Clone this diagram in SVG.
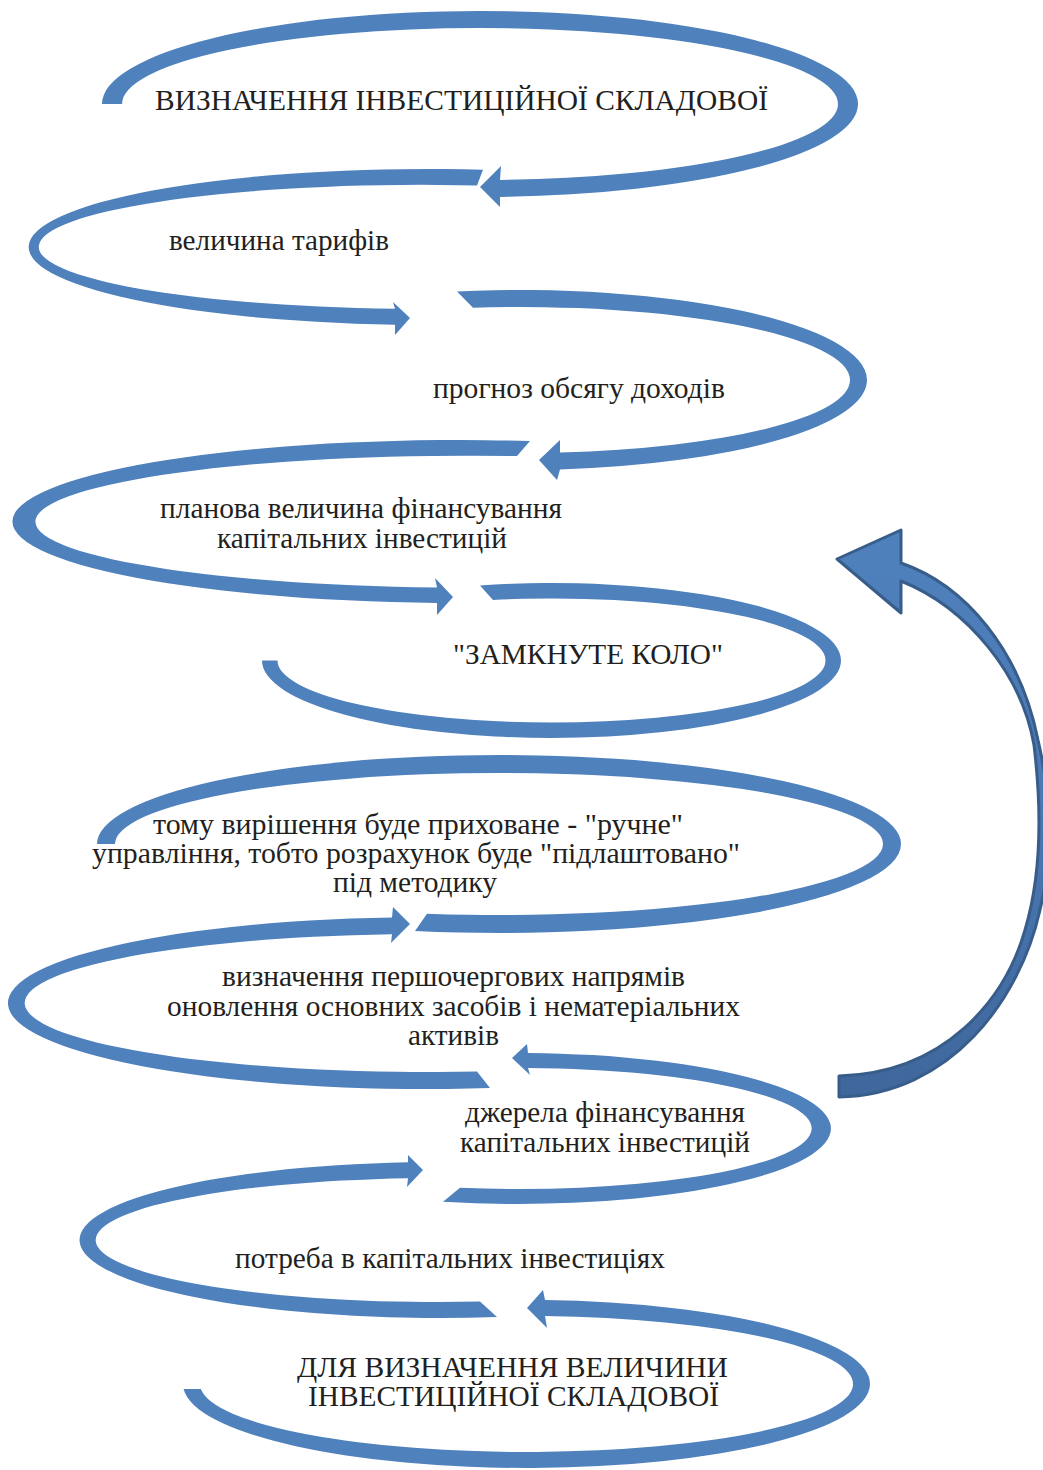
<svg xmlns="http://www.w3.org/2000/svg" width="1043" height="1470" viewBox="0 0 1043 1470">
<style>
.band{fill:#4f81bd}
.lbl{font-family:"Liberation Serif","Times New Roman",serif;font-size:29px;fill:#231f20}
.ret{stroke:#385d8a;stroke-width:3;stroke-linejoin:round}
</style>
<defs>
<linearGradient id="retg" x1="0" y1="0" x2="0" y2="1">
<stop offset="0" stop-color="#4f81bd"/>
<stop offset="0.5" stop-color="#4a78b2"/>
<stop offset="1" stop-color="#3f679c"/>
</linearGradient>
</defs>
<rect width="1043" height="1470" fill="#ffffff"/>
<g id="connectors">
<path class="band" d="M 102,104 A 378 93 0 0 1 858,104 A 378 93 0 0 1 500,196.9 L 500,207 L 480,187 L 501,166 L 500,179.9 A 358 76 0 0 0 838,104 A 358 76 0 0 0 122,104 Z"/>
<path class="band" d="M 483,169.7 A 400 78 0 1 0 395,324.7 L 395,335 L 410,318 L 393,302 L 395,308.7 A 383 62 0 1 1 477,185.5 Z"/>
<path class="band" d="M 457,291.5 A 347 90 0 0 1 867,380 A 347 90 0 0 1 560,469.4 L 557,480 L 539,460 L 560,440 L 560,452.5 A 330 73 0 0 0 850,380 A 330 73 0 0 0 473,307.7 Z"/>
<path class="band" d="M 530,441 A 448 81.5 0 1 0 437,602.9 L 437,615 L 453,597 L 435,578 L 437,587.5 A 432 66 0 1 1 517,456.1 Z"/>
<path class="band" d="M 480,585.4 A 289.5 77.5 0 0 1 841,660.5 A 289.5 77.5 0 0 1 262,660.5 L 277.5,660.5 A 274 62 0 0 0 825.5,660.5 A 274 62 0 0 0 493,599.9 Z"/>
<path class="band" d="M 97,844 A 402 89 0 0 1 901,844 A 402 89 0 0 1 415,931 L 427,913.7 A 384 71 0 0 0 883,844 A 384 71 0 0 0 115,844 Z"/>
<path class="band" d="M 490,1088.1 A 418 86 0 1 1 392,917.4 L 393,907 L 410,924 L 391,943 L 392,934.3 A 402 69 0 1 0 477,1071.5 Z"/>
<path class="band" d="M 443,1201.7 A 312 75.5 0 1 0 528,1053 L 527,1044 L 512,1058 L 530,1075 L 528,1068 A 292 60.5 0 1 1 460,1187.7 Z"/>
<path class="band" d="M 497,1317 A 360 78 0 1 1 408,1162.3 L 408,1155 L 423,1170 L 407,1187 L 408,1178.3 A 343 62 0 1 0 480,1301.6 Z"/>
<path class="band" d="M 183.6,1389 A 343.5 84 0 1 0 545,1300.1 L 543,1290 L 527,1308 L 547,1328 L 545,1316.1 A 326.5 68 0 1 1 200.9,1389 Z"/>
<path class="ret" fill="url(#retg)" d="M 901,563 C 965,585 1020,650 1038,740 C 1052,800 1052,860 1040,910 C 1020,1000 950,1095 839,1097 L 839,1076 C 945,1073 1005,1000 1025,930 C 1040,880 1043,820 1034,745 C 1022,675 968,608 901,581 L 901,613 L 837,559 L 901,530 Z"/>
</g>
<g id="n1"><text class="lbl" x="155" y="110" textLength="613" lengthAdjust="spacingAndGlyphs">ВИЗНАЧЕННЯ ІНВЕСТИЦІЙНОЇ СКЛАДОВОЇ</text></g>
<g id="n2"><text class="lbl" x="169" y="250" textLength="220" lengthAdjust="spacingAndGlyphs">величина тарифів</text></g>
<g id="n3"><text class="lbl" x="433" y="398" textLength="292" lengthAdjust="spacingAndGlyphs">прогноз обсягу доходів</text></g>
<g id="n4"><text class="lbl" x="160" y="518" textLength="402" lengthAdjust="spacingAndGlyphs">планова величина фінансування</text><text class="lbl" x="217" y="548" textLength="290" lengthAdjust="spacingAndGlyphs">капітальних інвестицій</text></g>
<g id="n5"><text class="lbl" x="453" y="664" textLength="270" lengthAdjust="spacingAndGlyphs">"ЗАМКНУТЕ КОЛО"</text></g>
<g id="n6"><text class="lbl" x="153" y="834" textLength="530" lengthAdjust="spacingAndGlyphs">тому вирішення буде приховане - "ручне"</text><text class="lbl" x="92" y="863" textLength="648" lengthAdjust="spacingAndGlyphs">управління, тобто розрахунок буде "підлаштовано"</text><text class="lbl" x="333" y="892" textLength="164" lengthAdjust="spacingAndGlyphs">під методику</text></g>
<g id="n7"><text class="lbl" x="222" y="986" textLength="463" lengthAdjust="spacingAndGlyphs">визначення першочергових напрямів</text><text class="lbl" x="167" y="1016" textLength="573" lengthAdjust="spacingAndGlyphs">оновлення основних засобів і нематеріальних</text><text class="lbl" x="408" y="1045" textLength="91" lengthAdjust="spacingAndGlyphs">активів</text></g>
<g id="n8"><text class="lbl" x="465" y="1122" textLength="280" lengthAdjust="spacingAndGlyphs">джерела фінансування</text><text class="lbl" x="460" y="1152" textLength="290" lengthAdjust="spacingAndGlyphs">капітальних інвестицій</text></g>
<g id="n9"><text class="lbl" x="235" y="1268" textLength="430" lengthAdjust="spacingAndGlyphs">потреба в капітальних інвестиціях</text></g>
<g id="n10"><text class="lbl" x="297" y="1377" textLength="431" lengthAdjust="spacingAndGlyphs">ДЛЯ ВИЗНАЧЕННЯ ВЕЛИЧИНИ</text><text class="lbl" x="308" y="1406" textLength="411" lengthAdjust="spacingAndGlyphs">ІНВЕСТИЦІЙНОЇ СКЛАДОВОЇ</text></g>
</svg>
